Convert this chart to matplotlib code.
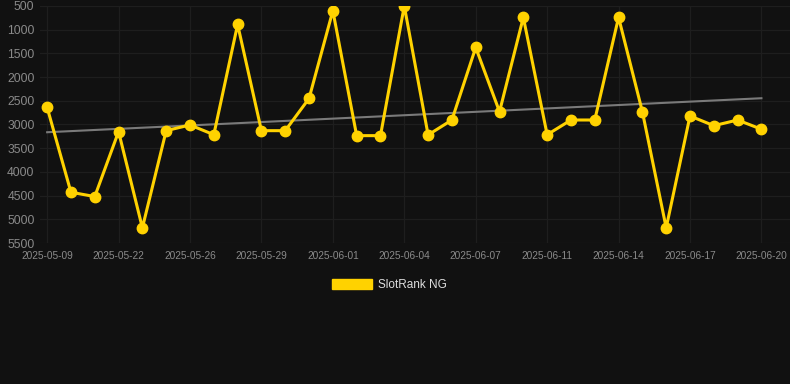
"""Rank history of SlotRank NG with a linear trend line."""

import numpy as np
import matplotlib
matplotlib.use("Agg")
import matplotlib.pyplot as plt
from matplotlib.patches import Patch

# Labels shown on the x axis (every third day of the series)
tick_labels = ["2025-05-09", "2025-05-22", "2025-05-26", "2025-05-29",
               "2025-06-01", "2025-06-04", "2025-06-07", "2025-06-11",
               "2025-06-14", "2025-06-17", "2025-06-20"]

# Rank values, one per day
rank = [2640, 4430, 4520, 3150, 5180, 3130, 3010, 3215, 890, 3130,
        3130, 2450, 600, 3235, 3235, 500, 3220, 2905, 1375, 2730,
        740, 3215, 2905, 2905, 740, 2730, 5180, 2820, 3025, 2905, 3100]

series_name = "SlotRank NG"

BG = "#111111"
GOLD = "#FFD200"


def main():
    plt.rcParams["font.family"] = ["Liberation Sans", "DejaVu Sans"]

    fig = plt.figure(figsize=(7.9, 3.84), dpi=100, facecolor=BG)
    ax = fig.add_axes([40 / 790, 1 - 243 / 384, 750 / 790, 237 / 384])
    ax.set_facecolor(BG)

    x = np.arange(len(rank))
    y = np.array(rank, dtype=float)

    # trend line
    k, b = np.polyfit(x, y, 1)
    ax.plot([x[0], x[-1]], [k * x[0] + b, k * x[-1] + b],
            color="#7a7a7a", lw=1.5, zorder=2)

    ax.plot(x, y, color=GOLD, lw=2.2, marker="o", markersize=7.5, zorder=3)

    ax.set_ylim(5500, 500)
    ax.set_xlim(-0.3, 31.2)
    ax.set_yticks(range(500, 5501, 500))
    ax.set_xticks(x[::3])
    ax.set_xticklabels(tick_labels)

    ax.grid(True, color="#1e1e1e", lw=0.9)
    for s in ax.spines.values():
        s.set_visible(False)
    ax.tick_params(axis="y", length=0, pad=4, labelsize=8.7, labelcolor="#8a8a8a")
    ax.tick_params(axis="x", length=0, pad=6, labelsize=7.3, labelcolor="#8a8a8a")

    handle = Patch(facecolor=GOLD, edgecolor=GOLD)
    fig.legend([handle], [series_name], loc="center", bbox_to_anchor=(389 / 790, 1 - 285 / 384),
               frameon=False, fontsize=8.5, labelcolor="#dddddd",
               handlelength=3.4, handleheight=0.9, handletextpad=0.5)

    fig.savefig("out.png", dpi=100, facecolor=BG)


if __name__ == "__main__":
    main()
